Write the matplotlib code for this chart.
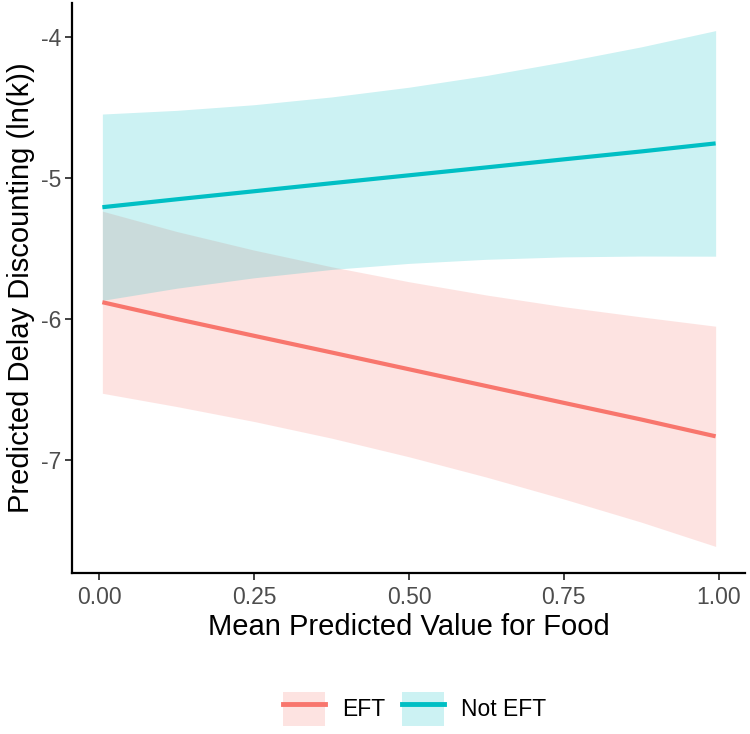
import matplotlib.pyplot as plt
from matplotlib.patches import Patch
from matplotlib.lines import Line2D
from matplotlib.legend_handler import HandlerTuple

plt.rcParams["font.family"] = ["Liberation Sans", "DejaVu Sans"]

food_value = [0.005, 0.125, 0.25, 0.375, 0.5, 0.625, 0.75, 0.875, 0.995]

eft_fit = [-5.88, -5.999, -6.118, -6.236, -6.355, -6.474, -6.593, -6.711, -6.83]
eft_upper = [-5.235, -5.379, -5.511, -5.629, -5.735, -5.829, -5.912, -5.984, -6.05]
eft_lower = [-6.525, -6.619, -6.725, -6.843, -6.975, -7.119, -7.274, -7.438, -7.61]

not_fit = [-5.207, -5.151, -5.094, -5.037, -4.981, -4.925, -4.868, -4.812, -4.755]
not_upper = [-4.547, -4.521, -4.481, -4.426, -4.357, -4.274, -4.177, -4.071, -3.956]
not_lower = [-5.867, -5.781, -5.707, -5.648, -5.605, -5.576, -5.559, -5.553, -5.554]

groups = ["EFT", "Not EFT"]
colors = ["#F8766D", "#00BFC4"]

fig = plt.figure(figsize=(7.5, 7.34), dpi=100)
ax = fig.add_axes([0.096, 0.219, 0.897, 0.777])

series = [(eft_fit, eft_lower, eft_upper), (not_fit, not_lower, not_upper)]
for (fit, lo, hi), col in zip(series, colors):
    ax.fill_between(food_value, lo, hi, color=col, alpha=0.2, linewidth=0)
for (fit, lo, hi), col in zip(series, colors):
    ax.plot(food_value, fit, color=col, linewidth=3, solid_capstyle="butt")

ax.set_xlim(-0.044, 1.042)
ax.set_ylim(-7.80, -3.76)
ax.set_xticks([0, 0.25, 0.5, 0.75, 1.0])
ax.set_xticklabels(["0.00", "0.25", "0.50", "0.75", "1.00"])
ax.set_yticks([-7, -6, -5, -4])
ax.set_yticklabels(["-7", "-6", "-5", "-4"])

for side in ["top", "right"]:
    ax.spines[side].set_visible(False)
for side in ["left", "bottom"]:
    ax.spines[side].set_linewidth(1.6)
    ax.spines[side].set_color("black")
ax.tick_params(axis="both", colors="#333333", labelcolor="#4D4D4D",
               labelsize=16.5, length=5, width=1.3)
ax.tick_params(axis="x", pad=4)
ax.tick_params(axis="y", pad=3)

ax.set_xlabel("Mean Predicted Value for Food", fontsize=21, labelpad=3)
ax.set_ylabel("Predicted Delay Discounting (ln(k))", fontsize=21, labelpad=4)

handles = []
for col in colors:
    handles.append((Patch(facecolor=col, alpha=0.2, edgecolor="none"),
                    Line2D([], [], color=col, linewidth=3.5)))
fig.legend(handles, groups, loc="center", bbox_to_anchor=(0.553, 0.034),
           ncol=2, frameon=False, fontsize=16.5,
           handler_map={tuple: HandlerTuple(ndivide=1, pad=0)},
           handlelength=1.85, handleheight=1.85, handletextpad=0.75,
           columnspacing=0.7, borderaxespad=0.0, borderpad=0.0)

fig.savefig("out.png", dpi=100)
